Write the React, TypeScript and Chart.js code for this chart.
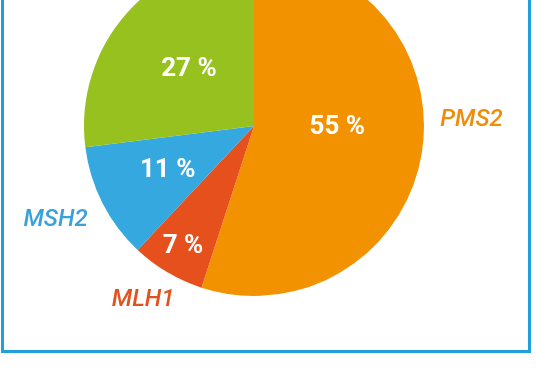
import React, { useEffect, useRef } from "react";
import { Chart, registerables } from "chart.js";

Chart.register(...registerables);

const categories = ["PMS2", "MLH1", "MSH2", "MSH6"];
const shares = [55, 7, 11, 27];
const sliceColors = ["#f39200", "#e5501c", "#35a8e0", "#96c11f"];
const outerLabels = ["PMS2", "MLH1", "MSH2", ""];
const labelColors = ["#ef8d0a", "#e0521f", "#3aa2d8", "#96c11f"];

// label placement (radius fraction, angle offset in degrees) per slice
const innerPlace = [
  { r: 0.49, da: -9 },
  { r: 0.82, da: 0 },
  { r: 0.57, da: 0 },
  { r: 0.51, da: 0 },
];
const outerPlace = [
  { r: 1.28, da: -10.8 },
  { r: 1.21, da: 2 },
  { r: 1.29, da: 1.8 },
  { r: 1.2, da: 0 },
];

const W = 536;
const H = 386;
const TOP_CUT = 44;

const labelPlugin = {
  id: "sliceLabels",
  afterDatasetsDraw(chart: any) {
    const ctx = chart.ctx;
    const meta = chart.getDatasetMeta(0);
    ctx.save();
    ctx.textAlign = "center";
    ctx.textBaseline = "middle";
    meta.data.forEach((arc: any, i: number) => {
      const { x, y, startAngle, endAngle, outerRadius } = arc.getProps(
        ["x", "y", "startAngle", "endAngle", "outerRadius"],
        true
      );
      const mid = (startAngle + endAngle) / 2;
      const a1 = mid + (innerPlace[i].da * Math.PI) / 180;
      const r1 = outerRadius * innerPlace[i].r;
      ctx.fillStyle = "#ffffff";
      ctx.font = "bold 26px Roboto, 'DejaVu Sans', sans-serif";
      const txt = shares[i] + " %";
      ctx.fillText(txt, x + Math.cos(a1) * r1, y + Math.sin(a1) * r1 + 1);
      if (outerLabels[i]) {
        const a2 = mid + (outerPlace[i].da * Math.PI) / 180;
        const r2 = outerRadius * outerPlace[i].r;
        ctx.fillStyle = labelColors[i];
        ctx.font = "italic 500 24px Roboto, 'DejaVu Sans', sans-serif";
        ctx.fillText(outerLabels[i], x + Math.cos(a2) * r2, y + Math.sin(a2) * r2 + 1);
      }
    });
    ctx.restore();
  },
};

export default function App() {
  const ref = useRef<HTMLCanvasElement | null>(null);
  useEffect(() => {
    if (!ref.current) return;
    const chart = new Chart(ref.current, {
      type: "pie",
      data: {
        labels: categories,
        datasets: [
          {
            data: shares,
            backgroundColor: sliceColors,
            borderWidth: 0,
          },
        ],
      },
      options: {
        animation: false,
        responsive: false,
        maintainAspectRatio: false,
        layout: { padding: { left: 84, right: 112, top: 0, bottom: H + TOP_CUT - 340 } },
        plugins: {
          legend: { display: false },
          tooltip: { enabled: false },
        },
      },
      plugins: [labelPlugin],
    });
    return () => chart.destroy();
  }, []);

  return (
    <div
      style={{
        position: "absolute",
        left: 0,
        top: 0,
        width: W,
        height: H,
        overflow: "hidden",
        background: "#ffffff",
      }}
    >
      <canvas
        ref={ref}
        width={W}
        height={H + TOP_CUT}
        style={{ position: "absolute", left: 0, top: -TOP_CUT, width: W, height: H + TOP_CUT }}
      />
      <div
        style={{
          position: "absolute",
          left: 1,
          top: -10,
          width: 531 - 1 - 6,
          height: 353 + 10 - 6,
          border: "3px solid #1fa0dc",
          boxSizing: "content-box",
        }}
      />
    </div>
  );
}
